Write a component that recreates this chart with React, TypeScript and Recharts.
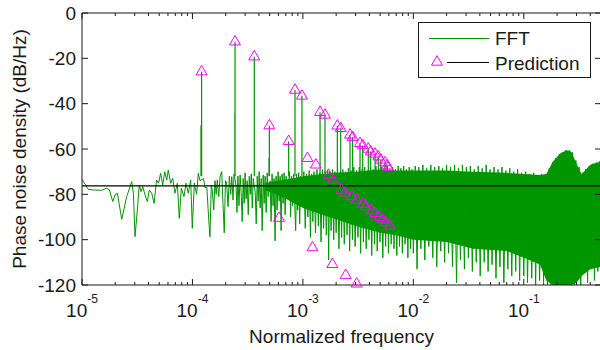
import React from "react";
import {
  ComposedChart,
  Line,
  Area,
  Scatter,
  XAxis,
  YAxis,
  ZAxis,
  ReferenceLine,
  Legend,
  Symbols,
} from "recharts";

const FONT = '"Liberation Sans", Arial, Helvetica, sans-serif';
const FFT_GREEN = "#009600";
const PRED_MAGENTA = "#ff00ff";
const INK = "#1a1a1a";

// axes
const xMajor = [1e-5, 1e-4, 1e-3, 1e-2, 1e-1];
const xMinorSteps = [2, 3, 4, 5, 6, 7, 8, 9];
const xMin = 1e-5;
const xMax = 0.5;
const yTicks = [0, -20, -40, -60, -80, -100, -120];

// flat noise-floor prediction (black line)
const predictionLevel = -76.3;

// FFT spectrum: [normalized frequency, dB/Hz]
const fftDecade5: [number, number][] = [
  [1.0e-5, -73.4], [1.14e-5, -77.8], [1.27e-5, -78.1], [1.5e-5, -78.2], [1.67e-5, -77.3],
  [1.77e-5, -78], [1.9e-5, -83.2], [1.99e-5, -80.3], [2.09e-5, -79.5], [2.29e-5, -91],
  [2.54e-5, -81], [2.82e-5, -74.4], [2.92e-5, -79.5], [3.02e-5, -98.7], [3.17e-5, -86.9],
  [3.3e-5, -75.9], [3.42e-5, -78.8], [3.55e-5, -76.6], [3.72e-5, -80.3], [3.9e-5, -83.2],
  [4.07e-5, -78.1], [4.28e-5, -79.5], [4.49e-5, -84], [4.74e-5, -73.7], [4.94e-5, -75.1],
  [5.15e-5, -70.7], [5.38e-5, -75.9], [5.61e-5, -70], [5.85e-5, -73.7], [6.04e-5, -69.3],
  [6.35e-5, -75.1], [6.62e-5, -72.9], [6.95e-5, -79.5], [7.3e-5, -75.1], [7.6e-5, -90.6],
  [7.93e-5, -77.3], [8.38e-5, -81], [8.74e-5, -75.1], [9.17e-5, -79.5], [9.64e-5, -73.7],
  [9.97e-5, -95],
];

const fftDecade4: [number, number][] = [
  [1.04e-4, -75], [1.09e-4, -80], [1.13e-4, -70.7], [1.17e-4, -74], [1.26e-4, -73],
  [1.3e-4, -77], [1.35e-4, -77], [1.4e-4, -90], [1.44e-4, -98.7], [1.48e-4, -76],
  [1.51e-4, -78], [1.56e-4, -86.9], [1.6e-4, -74], [1.64e-4, -80], [1.68e-4, -73.7],
  [1.73e-4, -81], [1.78e-4, -72], [1.84e-4, -70], [1.89e-4, -84], [1.94e-4, -97],
  [1.99e-4, -74], [2.04e-4, -75], [2.1e-4, -85.4], [2.16e-4, -72], [2.22e-4, -80],
  [2.27e-4, -72.2], [2.33e-4, -82.5], [2.38e-4, -71], [2.48e-4, -76], [2.53e-4, -88],
  [2.58e-4, -72], [2.64e-4, -85], [2.7e-4, -71.5], [2.76e-4, -79], [2.82e-4, -92],
  [2.88e-4, -73], [2.94e-4, -84], [3.0e-4, -70.5], [3.06e-4, -82], [3.13e-4, -74],
  [3.2e-4, -89], [3.27e-4, -72], [3.34e-4, -80], [3.41e-4, -71], [3.48e-4, -86],
  [3.55e-4, -73], [3.7e-4, -79], [3.78e-4, -93], [3.86e-4, -72], [3.94e-4, -83],
  [4.02e-4, -70], [4.1e-4, -86], [4.19e-4, -73], [4.28e-4, -96], [4.37e-4, -71.5],
  [4.46e-4, -84], [4.55e-4, -72], [4.65e-4, -88], [4.75e-4, -70.5], [4.85e-4, -81],
  [5.05e-4, -74], [5.15e-4, -92], [5.26e-4, -71], [5.37e-4, -85], [5.48e-4, -73],
  [5.6e-4, -100.5], [5.72e-4, -72], [5.84e-4, -87], [5.96e-4, -70], [6.09e-4, -83],
  [6.22e-4, -72], [6.35e-4, -96], [6.48e-4, -71], [6.62e-4, -84], [6.76e-4, -70.5],
  [6.9e-4, -89], [7.05e-4, -72], [7.2e-4, -82], [7.58e-4, -70], [7.74e-4, -90],
  [7.9e-4, -72], [8.07e-4, -85], [8.24e-4, -71], [8.6e-4, -96], [8.78e-4, -71],
  [8.97e-4, -87], [9.16e-4, -70.5], [9.35e-4, -93], [9.55e-4, -72], [9.9e-4, -84],
];

const fftDecade3: [number, number][] = [
  [1.02e-3, -70], [1.05e-3, -95], [1.08e-3, -71], [1.11e-3, -90], [1.14e-3, -69.5],
  [1.17e-3, -99], [1.2e-3, -71], [1.23e-3, -92], [1.26e-3, -70], [1.3e-3, -97],
  [1.34e-3, -69], [1.38e-3, -94], [1.42e-3, -70.5], [1.46e-3, -101], [1.5e-3, -69],
  [1.54e-3, -95], [1.58e-3, -70], [1.63e-3, -98], [1.68e-3, -69.5], [1.71e-3, -109],
  [1.75e-3, -70], [1.8e-3, -96], [1.85e-3, -69], [1.9e-3, -100], [1.95e-3, -70],
  [2.0e-3, -97], [2.06e-3, -68.5], [2.12e-3, -104], [2.18e-3, -70], [2.24e-3, -99],
  [2.3e-3, -69], [2.37e-3, -102], [2.44e-3, -70], [2.51e-3, -98], [2.58e-3, -68.5],
  [2.65e-3, -105], [2.73e-3, -69.5], [2.81e-3, -100], [2.89e-3, -68], [2.97e-3, -103],
  [3.06e-3, -69.5], [3.15e-3, -99], [3.24e-3, -68], [3.33e-3, -106], [3.43e-3, -69],
  [3.53e-3, -101], [3.63e-3, -68], [3.74e-3, -104], [3.85e-3, -69.5], [3.96e-3, -100],
  [4.08e-3, -68], [4.2e-3, -107], [4.32e-3, -69], [4.45e-3, -102], [4.58e-3, -67.5],
  [4.71e-3, -105], [4.85e-3, -69], [4.99e-3, -101], [5.14e-3, -68], [5.29e-3, -108],
  [5.45e-3, -69], [5.61e-3, -103], [5.78e-3, -67.5], [5.95e-3, -106], [6.12e-3, -69],
  [6.3e-3, -102], [6.49e-3, -68], [6.68e-3, -104], [6.88e-3, -69], [7.08e-3, -107],
  [7.29e-3, -67.5], [7.5e-3, -103], [7.72e-3, -68.5], [7.95e-3, -106], [8.18e-3, -67.5],
  [8.42e-3, -102], [8.67e-3, -69], [8.92e-3, -108], [9.18e-3, -68], [9.45e-3, -104],
  [9.73e-3, -69],
];

const fftDecade2: [number, number][] = [
  [1.0e-2, -106], [1.04e-2, -67.5], [1.08e-2, -113], [1.12e-2, -68], [1.17e-2, -104],
  [1.22e-2, -67], [1.27e-2, -109], [1.32e-2, -68.5], [1.38e-2, -103], [1.44e-2, -67],
  [1.5e-2, -108], [1.56e-2, -68], [1.63e-2, -112], [1.7e-2, -67.5], [1.77e-2, -105],
  [1.84e-2, -68.5], [1.92e-2, -110], [2.0e-2, -67], [2.08e-2, -106], [2.17e-2, -68],
  [2.26e-2, -112], [2.36e-2, -67], [2.46e-2, -119], [2.56e-2, -68.5], [2.67e-2, -109],
  [2.78e-2, -67], [2.9e-2, -113], [3.02e-2, -68], [3.15e-2, -108], [3.28e-2, -67.5],
  [3.42e-2, -114], [3.56e-2, -69], [3.71e-2, -110], [3.87e-2, -67.5], [4.03e-2, -116],
  [4.2e-2, -68.5], [4.38e-2, -110], [4.56e-2, -67], [4.75e-2, -114], [4.95e-2, -69],
  [5.16e-2, -111], [5.38e-2, -68], [5.6e-2, -117], [5.84e-2, -69], [6.08e-2, -112],
  [6.34e-2, -68], [6.6e-2, -119], [6.88e-2, -69.5], [7.17e-2, -113], [7.47e-2, -68.5],
  [7.78e-2, -116], [8.11e-2, -70], [8.45e-2, -114], [8.8e-2, -69], [9.17e-2, -118],
  [9.55e-2, -70.5],
];

const fftDecade1: [number, number][] = [
  [0.1, -116], [0.104, -70], [0.108, -119], [0.113, -71], [0.118, -117],
  [0.123, -70.5], [0.128, -120], [0.133, -71.5], [0.139, -118], [0.145, -71],
  [0.151, -120], [0.157, -71], [0.164, -120], [0.17, -68.5], [0.176, -120],
  [0.182, -66], [0.188, -120], [0.195, -64], [0.202, -120], [0.209, -62.5],
  [0.217, -120], [0.225, -61.5], [0.233, -120], [0.241, -60.5], [0.249, -120],
  [0.258, -60.5], [0.267, -120], [0.276, -61.5], [0.286, -120], [0.296, -65],
  [0.306, -118], [0.317, -68], [0.328, -120], [0.34, -70.5], [0.352, -114],
  [0.365, -69], [0.378, -119], [0.392, -67.5], [0.406, -113], [0.421, -66.5],
  [0.436, -118], [0.452, -66], [0.468, -114], [0.484, -65.5], [0.5, -115],
];

// dense core of the FFT trace (solid green band)
const bandFreq = [
  4.5e-4, 7e-4, 1e-3, 1.5e-3, 2e-3, 3e-3, 5e-3, 7e-3, 1e-2, 2e-2, 3.5e-2, 7e-2,
  0.1, 0.14, 0.16, 0.183, 0.213, 0.244, 0.27, 0.3, 0.334, 0.4, 0.5,
];
const bandUpper = [
  -75, -73.5, -72, -71, -70.5, -70, -69, -69.5, -69.5, -69.5, -70, -70.5,
  -71, -71.5, -71, -65.6, -62, -60.5, -61.2, -66.5, -71, -67, -65.5,
];
const bandLower = [
  -78, -82, -86, -89, -91, -94, -97, -98, -100, -101, -104, -105,
  -108, -111, -118, -120, -120, -120, -120, -119, -116, -113, -112,
];

// spurs of the FFT (vertical lines up to the markers)
const spurFreq = [
  1.195e-4, 1.21e-4, 2.42e-4, 2.43e-4, 3.63e-4, 4.93e-4, 4.97e-4, 7.43e-4, 8.48e-4, 9.8e-4,
  1.43e-3, 1.585e-3, 2.05e-3, 2.2e-3, 2.67e-3, 2.82e-3, 3.29e-3, 3.48e-3, 3.91e-3, 4.11e-3,
  4.5e-3, 4.82e-3, 5.06e-3, 5.54e-3, 5.81e-3,
];
const spurPeak = [
  -49.5, -25.9, -44, -12.7, -19.3, -64, -49.7, -56.6, -34, -36.6,
  -43.8, -45, -49.8, -50.9, -53.8, -54.8, -57.5, -58.5, -60, -61.2,
  -62.2, -63.4, -64.8, -66, -67.4,
];
const spurFloor = -72;

// prediction markers
const predFreq = [
  1.21e-4, 2.43e-4, 3.63e-4, 4.97e-4, 7.43e-4, 8.48e-4, 9.8e-4, 1.43e-3, 1.585e-3, 2.05e-3,
  2.2e-3, 2.67e-3, 2.82e-3, 3.29e-3, 3.48e-3, 3.91e-3, 4.11e-3, 4.5e-3, 4.82e-3, 5.06e-3,
  5.54e-3, 5.81e-3, 5.93e-3,
  1.1e-3, 1.31e-3, 1.7e-3, 1.88e-3, 2.24e-3, 2.41e-3, 2.77e-3, 3.07e-3, 3.52e-3, 3.73e-3,
  4.2e-3, 4.5e-3, 4.92e-3, 5.28e-3, 5.65e-3, 6.15e-3,
  6.08e-4, 1.22e-3, 1.85e-3, 2.44e-3, 3.07e-3,
];
const predDb = [
  -25.9, -12.7, -19.3, -49.7, -56.6, -34, -36.6, -43.8, -45, -49.8,
  -50.9, -53.8, -54.8, -57.5, -58.5, -60, -61.2, -62.2, -63.4, -64.8,
  -66, -67.4, -68.2,
  -64.1, -67, -71.5, -73.7, -78.1, -79.3, -81, -82.5, -84.3, -85.4,
  -87.2, -88.4, -90.1, -91.3, -92.5, -94,
  -90.5, -103.5, -110.9, -115.7, -119.5,
];

const fftData = [...fftDecade5, ...fftDecade4, ...fftDecade3, ...fftDecade2, ...fftDecade1].map(
  ([f, db]) => ({ f, db })
);
const bandData = bandFreq.map((f, i) => ({ f, range: [bandLower[i], bandUpper[i]] }));
const spurData = spurFreq.flatMap((f, i) => [
  { f, db: spurFloor },
  { f, db: spurPeak[i] },
  { f, db: null },
]);
const predData = predFreq.map((f, i) => ({ f, db: predDb[i] }));

const xTicks = xMajor
  .flatMap((d) => [d, ...xMinorSteps.map((m) => m * d)])
  .filter((v) => v < xMax * 0.999);
const isMajor = (v: number) => xMajor.some((m) => Math.abs(v / m - 1) < 1e-9);

function BottomTick({ x, y, payload }: any) {
  const v = payload.value;
  const major = isMajor(v);
  return (
    <g>
      <line x1={x} x2={x} y1={y} y2={y - (major ? 6 : 3)} stroke={INK} />
      {major && (
        <text x={x} y={y + 31.7} textAnchor="middle" fontFamily={FONT} fontSize={19} fill={INK}>
          <tspan>10</tspan>
          <tspan fontSize={12} dy={-13.4}>
            {Math.round(Math.log10(v))}
          </tspan>
        </text>
      )}
    </g>
  );
}

function TopTick({ x, y, payload }: any) {
  const major = isMajor(payload.value);
  return <line x1={x} x2={x} y1={y} y2={y + (major ? 6 : 3)} stroke={INK} />;
}

function LeftTick({ x, y, payload }: any) {
  return (
    <g>
      <line x1={x} x2={x + 6} y1={y} y2={y} stroke={INK} />
      <text x={x - 6} y={y + 6.5} textAnchor="end" fontFamily={FONT} fontSize={19} fill={INK}>
        {payload.value}
      </text>
    </g>
  );
}

function RightTick({ x, y }: any) {
  return <line x1={x} x2={x - 6} y1={y} y2={y} stroke={INK} />;
}

function LegendBox() {
  return (
    <svg width={174} height={57} style={{ display: "block" }}>
      <rect x={0.5} y={0.5} width={172} height={55} fill="#fff" stroke={INK} />
      <line x1={11} x2={71} y1={16.5} y2={16.5} stroke={FFT_GREEN} />
      <text x={77} y={23} fontFamily={FONT} fontSize={19} fill={INK}>
        FFT
      </text>
      <Symbols cx={19} cy={40} type="triangle" size={52} fill="none" stroke={PRED_MAGENTA} />
      <line x1={29} x2={71} y1={40.5} y2={40.5} stroke="#000" />
      <text x={77} y={48} fontFamily={FONT} fontSize={19} fill={INK}>
        Prediction
      </text>
    </svg>
  );
}

export default function App() {
  return (
    <div
      style={{
        position: "fixed",
        left: 0,
        top: 0,
        width: 600,
        height: 350,
        overflow: "hidden",
        background: "#fff",
      }}
    >
      <ComposedChart width={602} height={350} margin={{ top: 12, right: 0, bottom: 0, left: 0 }}>
        <XAxis
          dataKey="f"
          type="number"
          scale="log"
          domain={[xMin, xMax]}
          ticks={xTicks}
          interval={0}
          height={65}
          tickSize={0}
          tickMargin={0}
          tickLine={false}
          axisLine={{ stroke: INK }}
          tick={(p: any) => <BottomTick {...p} />}
          label={{
            value: "Normalized frequency",
            position: "insideBottom",
            offset: 7,
            style: { fontFamily: FONT, fontSize: 19, fill: INK },
          }}
        />
        <XAxis
          xAxisId="top"
          orientation="top"
          dataKey="f"
          type="number"
          scale="log"
          domain={[xMin, xMax]}
          allowDataOverflow
          ticks={xTicks}
          interval={0}
          height={1}
          tickSize={0}
          tickMargin={0}
          tickLine={false}
          axisLine={{ stroke: INK }}
          tick={(p: any) => <TopTick {...p} />}
        />
        <YAxis
          type="number"
          domain={[-120, 0]}
          ticks={yTicks}
          interval={0}
          width={82}
          tickSize={0}
          tickMargin={0}
          tickLine={false}
          axisLine={{ stroke: INK }}
          tick={(p: any) => <LeftTick {...p} />}
          label={{
            value: "Phase noise density (dB/Hz)",
            angle: -90,
            position: "insideLeft",
            offset: 19,
            style: { textAnchor: "middle", fontFamily: FONT, fontSize: 19, fill: INK },
          }}
        />
        <YAxis
          yAxisId="right"
          orientation="right"
          type="number"
          domain={[-120, 0]}
          allowDataOverflow
          ticks={yTicks}
          interval={0}
          width={1}
          tickSize={0}
          tickMargin={0}
          tickLine={false}
          axisLine={{ stroke: INK }}
          tick={(p: any) => <RightTick {...p} />}
        />
        <ZAxis type="number" range={[52, 52]} />
        <Area
          data={bandData}
          dataKey="range"
          type="linear"
          stroke="none"
          fill={FFT_GREEN}
          fillOpacity={1}
          isAnimationActive={false}
        />
        <Line
          data={fftData}
          dataKey="db"
          type="linear"
          stroke={FFT_GREEN}
          strokeWidth={1}
          dot={false}
          isAnimationActive={false}
        />
        <Line
          data={spurData}
          dataKey="db"
          type="linear"
          stroke={FFT_GREEN}
          strokeWidth={1.2}
          dot={false}
          connectNulls={false}
          isAnimationActive={false}
        />
        <ReferenceLine y={predictionLevel} stroke="#000" strokeWidth={1.2} />
        <Scatter
          data={predData}
          dataKey="db"
          shape="triangle"
          fill="none"
          stroke={PRED_MAGENTA}
          strokeWidth={1}
          isAnimationActive={false}
        />
        <Legend
          layout="vertical"
          align="center"
          verticalAlign="middle"
          wrapperStyle={{ left: 418, top: 22, width: 174, height: 57 }}
          content={() => <LegendBox />}
        />
      </ComposedChart>
    </div>
  );
}
